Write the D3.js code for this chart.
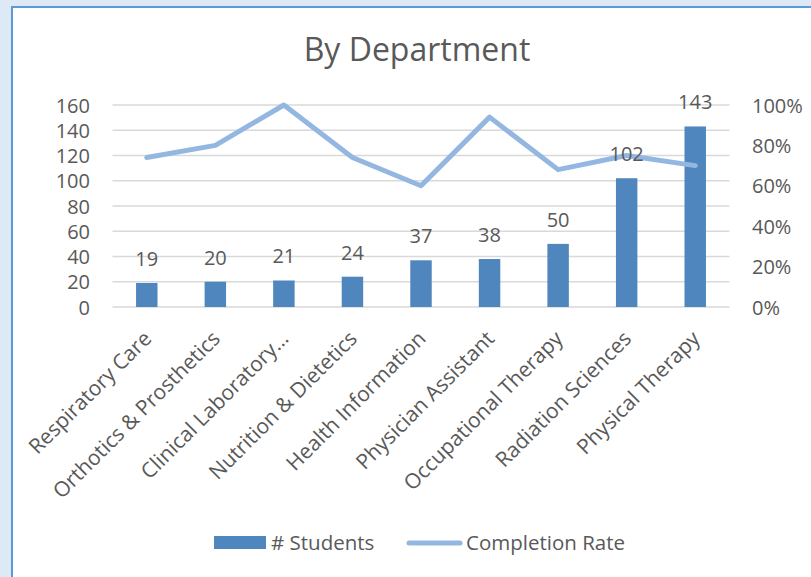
<!DOCTYPE html>
<html>
<head>
<meta charset="utf-8">
<script src="https://cdn.jsdelivr.net/npm/d3@7"></script>
<style>
  html, body { margin: 0; padding: 0; background: #dde9f5; }
  svg { display: block; }
  text { font-family: "Open Sans", sans-serif; fill: #595959; }
</style>
</head>
<body>
<svg id="chart" width="811" height="577"></svg>
<script>
const categories = ["Respiratory Care", "Orthotics & Prosthetics", "Clinical Laboratory\u2026", "Nutrition & Dietetics", "Health Information", "Physician Assistant", "Occupational Therapy", "Radiation Sciences", "Physical Therapy"];
const students = [19, 20, 21, 24, 37, 38, 50, 102, 143];
const completionRate = [0.74, 0.80, 1.00, 0.74, 0.60, 0.94, 0.68, 0.75, 0.70];
const leftTicks = [0, 20, 40, 60, 80, 100, 120, 140, 160];
const rightTicks = [0, 0.2, 0.4, 0.6, 0.8, 1.0];
const seriesNames = ["# Students", "Completion Rate"];
const title = "By Department";

const barColor = "#4f86be";
const lineColor = "#93b7e0";

const svg = d3.select("#chart");

// chart area
svg.append("rect").attr("x", 0).attr("y", 0).attr("width", 811).attr("height", 577).attr("fill", "#dde9f5");
svg.append("rect").attr("x", 12).attr("y", 7).attr("width", 820).attr("height", 600)
  .attr("fill", "#ffffff").attr("stroke", "#5b9bd5").attr("stroke-width", 2);

const plot = { left: 112.5, right: 729.5, top: 105, bottom: 307 };

const x = d3.scaleBand().domain(categories).range([plot.left, plot.right]).paddingInner(0.687).paddingOuter(0.3435);
const y = d3.scaleLinear().domain([0, 160]).range([plot.bottom, plot.top]);
const y2 = d3.scaleLinear().domain([0, 1]).range([plot.bottom, plot.top]);

// title
svg.append("text").attr("x", 417).attr("y", 61).attr("text-anchor", "middle")
  .style("font-size", "32px").text(title);

// gridlines
svg.append("g").selectAll("line").data(leftTicks).join("line")
  .attr("x1", plot.left).attr("x2", plot.right)
  .attr("y1", d => y(d)).attr("y2", d => y(d))
  .attr("stroke", "#d9d9d9").attr("stroke-width", 1.3);

// left axis
const leftAxis = d3.axisLeft(y).tickValues(leftTicks).tickSize(0).tickPadding(0);
const gl = svg.append("g").attr("transform", `translate(90,0)`).call(leftAxis);
gl.select(".domain").remove();
gl.selectAll("text").style("font-size", "20px").attr("fill", "#595959").attr("dy", "0.35em");

// right axis
const rightAxis = d3.axisRight(y2).tickValues(rightTicks).tickSize(0).tickPadding(0).tickFormat(d3.format(".0%"));
const gr = svg.append("g").attr("transform", `translate(752,0)`).call(rightAxis);
gr.select(".domain").remove();
gr.selectAll("text").style("font-size", "20px").attr("fill", "#595959").attr("dy", "0.35em");

// bars
svg.append("g").selectAll("rect").data(students).join("rect")
  .attr("x", (d, i) => x(categories[i]))
  .attr("y", d => y(d))
  .attr("width", x.bandwidth())
  .attr("height", d => y(0) - y(d))
  .attr("fill", barColor);

// line
const line = d3.line().x((d, i) => x(categories[i]) + x.bandwidth() / 2).y(d => y2(d));
svg.append("path").datum(completionRate).attr("d", line)
  .attr("fill", "none").attr("stroke", lineColor).attr("stroke-width", 5)
  .attr("stroke-linecap", "round").attr("stroke-linejoin", "round");

// data labels
svg.append("g").selectAll("text").data(students).join("text")
  .attr("x", (d, i) => x(categories[i]) + x.bandwidth() / 2)
  .attr("y", d => y(d) - 17)
  .attr("text-anchor", "middle")
  .style("font-size", "20px")
  .text(d => d);

// category labels
svg.append("g").selectAll("text").data(categories).join("text")
  .attr("transform", (d) => `translate(${x(d) + x.bandwidth() / 2 + 6},${340}) rotate(-45)`)
  .attr("text-anchor", "end")
  .style("font-size", "21px")
  .text(d => d);

// legend
const lg = svg.append("g");
lg.append("rect").attr("x", 214).attr("y", 536).attr("width", 52).attr("height", 13).attr("fill", barColor);
lg.append("text").attr("x", 271).attr("y", 543).attr("dy", "0.35em").style("font-size", "20.5px").text(seriesNames[0]);
lg.append("line").attr("x1", 409).attr("x2", 460).attr("y1", 543).attr("y2", 543)
  .attr("stroke", lineColor).attr("stroke-width", 5).attr("stroke-linecap", "round");
lg.append("text").attr("x", 466).attr("y", 543).attr("dy", "0.35em").style("font-size", "20.5px").text(seriesNames[1]);
</script>
</body>
</html>
